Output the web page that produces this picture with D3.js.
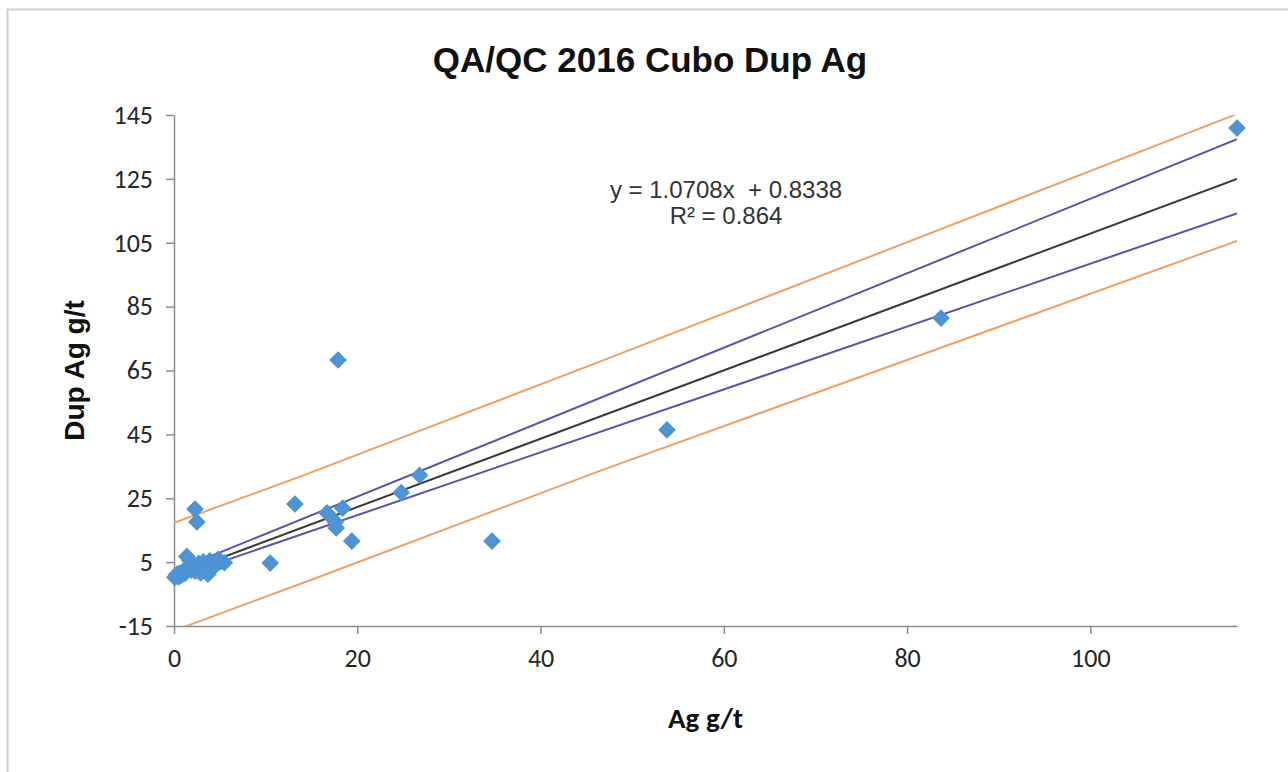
<!DOCTYPE html>
<html>
<head>
<meta charset="utf-8">
<script src="https://cdn.jsdelivr.net/npm/d3@7"></script>
<style>
  body { margin: 0; background: #fff; }
  svg { display: block; }
</style>
</head>
<body>
<div id="chart"></div>
<script>
// duplicate pairs: original Ag g/t vs duplicate Ag g/t
var agOrig = [0.1, 0.2, 0.3, 0.5, 0.6, 0.8, 1.0, 1.2, 1.4, 1.5, 1.7, 1.9, 2.1, 2.3, 2.5, 2.7, 2.9,
  3.2, 3.4, 3.7, 3.9, 4.2, 4.5, 4.8, 5.1, 5.5,
  2.3, 2.5, 10.5, 13.2, 16.7, 17.7, 17.6, 18.4, 17.9, 19.4, 24.8, 26.8, 34.7, 53.8, 83.7, 116];
var agDup = [0.2, 0.6, 1.2, 0.4, 1.6, 0.9, 2.0, 1.5, 6.8, 3.5, 5.6, 2.5, 4.1, 2.2, 3.2, 4.6, 1.6,
  5.1, 4.0, 1.2, 5.4, 3.0, 4.6, 5.9, 5.2, 4.8,
  21.6, 17.6, 4.7, 23.2, 20.4, 15.7, 17.6, 21.9, 68.3, 11.6, 26.8, 32.2, 11.6, 46.4, 81.4, 140.9];

// trend line and limit lines as [x, y] points
var trendLine = [[0, 0.83], [116, 125.0]];
var blueUpper = [[0, 2.2], [116, 137.4]];
var blueLower = [[0, 0.0], [116, 114.2]];
var orangeUpper = [[0, 17.3], [13.7, 31.7], [46.4, 67.7], [116, 145.3]];
var orangeLower = [[0, -16.5], [15, -0.5], [46.4, 33.5], [116, 105.6]];

var xTicks = [0, 20, 40, 60, 80, 100];
var yTicks = [-15, 5, 25, 45, 65, 85, 105, 125, 145];

var chartTitle = "QA/QC 2016 Cubo Dup Ag";
var xTitle = "Ag g/t";
var yTitle = "Dup Ag g/t";
var eqLines = ["y = 1.0708x  + 0.8338", "R² = 0.864"];

var width = 1288,
  height = 772;
var plot = { left: 174, right: 1237, top: 115, bottom: 626 };

var svg = d3
  .select("#chart")
  .append("svg")
  .attr("width", width)
  .attr("height", height);

svg.append("rect").attr("width", width).attr("height", height).attr("fill", "#fff");

// chart frame
svg
  .append("rect")
  .attr("x", 7.5)
  .attr("y", 9.5)
  .attr("width", width + 10)
  .attr("height", height + 10)
  .attr("fill", "none")
  .attr("stroke", "#d0d0d0")
  .attr("stroke-width", 2);

var x = d3.scaleLinear().domain([0, 116]).range([plot.left, plot.right]);
var y = d3.scaleLinear().domain([-15, 145]).range([plot.bottom, plot.top]);

svg
  .append("defs")
  .append("clipPath")
  .attr("id", "clip")
  .append("rect")
  .attr("x", plot.left)
  .attr("y", plot.top)
  .attr("width", plot.right - plot.left)
  .attr("height", plot.bottom - plot.top);

// plain hyphen for negatives, like the original
var fmt = function (d) { return String(d); };

// axes
var xAxis = svg
  .append("g")
  .attr("transform", "translate(0," + plot.bottom + ")")
  .call(d3.axisBottom(x).tickValues(xTicks).tickFormat(fmt).tickSizeInner(8).tickSizeOuter(0).tickPadding(15));
var yAxis = svg
  .append("g")
  .attr("transform", "translate(" + plot.left + ",0)")
  .call(d3.axisLeft(y).tickValues(yTicks).tickFormat(fmt).tickSizeInner(8).tickSizeOuter(0).tickPadding(13));

[xAxis, yAxis].forEach(function (a) {
  a.select(".domain").attr("stroke", "#8c8c8c").attr("stroke-width", 1.5);
  a.selectAll(".tick line").attr("stroke", "#8c8c8c").attr("stroke-width", 1.5);
  a.selectAll(".tick text")
    .attr("fill", "#262626")
    .style("font-family", "Carlito, Lato, 'Open Sans', sans-serif")
    .style("font-size", "26px");
});

// lines
var line = d3
  .line()
  .x(function (d) { return x(d[0]); })
  .y(function (d) { return y(d[1]); });

var lineSets = [
  { pts: orangeUpper, color: "#f0a062" },
  { pts: orangeLower, color: "#f0a062" },
  { pts: blueUpper, color: "#5a54a8" },
  { pts: blueLower, color: "#5a54a8" },
  { pts: trendLine, color: "#3a3a3a" }
];

var lines = svg.append("g").attr("clip-path", "url(#clip)");
lines
  .selectAll("path")
  .data(lineSets)
  .join("path")
  .attr("d", function (d) { return line(d.pts); })
  .attr("fill", "none")
  .attr("stroke", function (d) { return d.color; })
  .attr("stroke-width", 2);

// points (diamonds)
var pts = d3.range(agOrig.length).map(function (i) {
  return [agOrig[i], agDup[i]];
});
svg
  .append("g")
  .selectAll("path")
  .data(pts)
  .join("path")
  .attr("d", d3.symbol(d3.symbolSquare, 156))
  .attr("transform", function (d) {
    return "translate(" + x(d[0]) + "," + y(d[1]) + ") rotate(45)";
  })
  .attr("fill", "#4e94d4");

// titles
svg
  .append("text")
  .attr("x", 650)
  .attr("y", 72)
  .attr("text-anchor", "middle")
  .style("font-family", "'Liberation Sans', Arial, sans-serif")
  .style("font-weight", "bold")
  .style("font-size", "35px")
  .attr("fill", "#111")
  .text(chartTitle);

svg
  .append("text")
  .attr("x", (plot.left + plot.right) / 2)
  .attr("y", 728)
  .attr("text-anchor", "middle")
  .style("font-family", "Carlito, Lato, sans-serif")
  .style("font-weight", "bold")
  .style("font-size", "29px")
  .attr("fill", "#111")
  .text(xTitle);

svg
  .append("text")
  .attr("transform", "translate(84," + (plot.top + plot.bottom) / 2 + ") rotate(-90)")
  .attr("text-anchor", "middle")
  .style("font-family", "'Liberation Sans', Arial, sans-serif")
  .style("font-weight", "bold")
  .style("font-size", "28px")
  .attr("fill", "#111")
  .text(yTitle);

// trend equation
svg
  .append("g")
  .selectAll("text")
  .data(eqLines)
  .join("text")
  .attr("x", 726)
  .attr("y", function (d, i) { return 198 + i * 26; })
  .attr("text-anchor", "middle")
  .style("font-family", "'Liberation Sans', Arial, sans-serif")
  .style("font-size", "24px")
  .attr("fill", "#333")
  .style("white-space", "pre")
  .text(function (d) { return d; });
</script>
</body>
</html>
